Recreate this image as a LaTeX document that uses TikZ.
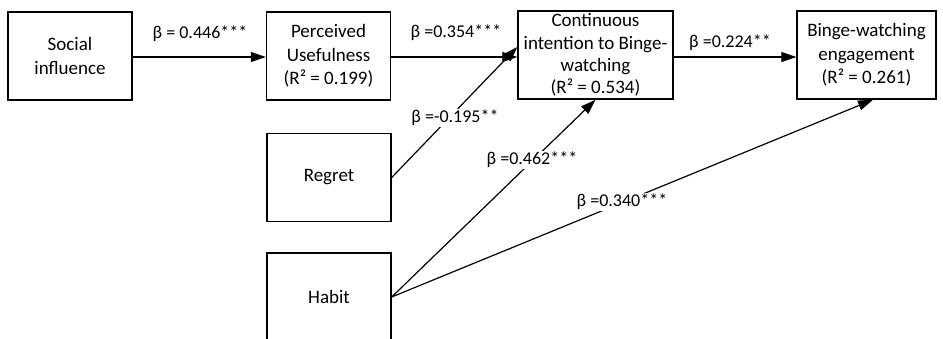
\documentclass[tikz,border=0pt]{standalone}
\usepackage{fontspec}
\setmainfont{Carlito}
\usetikzlibrary{arrows.meta}
\begin{document}
\begin{tikzpicture}[x=1pt,y=-1pt,
  box/.style={draw, line width=1.4pt, minimum height=88pt, inner sep=0pt, align=center,
    font=\fontsize{19}{23.5}\selectfont},
  lbl/.style={fill=white, inner sep=1pt, font=\fontsize{18}{22}\selectfont},
  arr/.style={line width=1.2pt, -{Triangle[length=15pt,width=10pt]}}]
\useasboundingbox (0,0) rectangle (943,338);
\clip (0,0) rectangle (943,338);
\node[box, minimum width=124pt] (si) at (70,56) {Social\\influence};
\node[box, minimum width=124pt] (pu) at (328.5,56) {Perceived\\Usefulness\\(R² = 0.199)};
\node[box, minimum width=155pt, font=\fontsize{19}{22.3}\selectfont] (ci) at (595.5,55) {Continuous\\intention to Binge-\\watching\\(R² = 0.534)};
\node[box, minimum width=139pt] (bwe) at (866.5,55) {Binge-watching\\engagement\\(R² = 0.261)};
\node[box, minimum width=124pt] (reg) at (329,177.5) {Regret};
\node[box, minimum width=124pt] (hab) at (329,297) {Habit};

\draw[arr] (si.east |- 0,57) -- (pu.west |- 0,57);
\draw[arr] (pu.east |- 0,57) -- (ci.west |- 0,57);
\draw[arr] (ci.east |- 0,57) -- (bwe.west |- 0,57);
\draw[arr] (reg.east) -- ([yshift=8pt]ci.west);
\draw[arr] (hab.east) -- (ci.south);
\draw[arr] (hab.east) -- ([xshift=6.5pt]bwe.south);

\node[lbl] (l1) at (200,34) {β = 0.446***};
\node[lbl] (l2) at (456,33) {β =0.354***};
\node[lbl] (l3) at (455,118) {β =-0.195**};
\node[lbl] (l4) at (532,160) {β =0.462***};
\node[lbl] (l5) at (622,202) {β =0.340***};
\node[lbl] (l6) at (730,43) {β =0.224**};
\end{tikzpicture}
\end{document}
